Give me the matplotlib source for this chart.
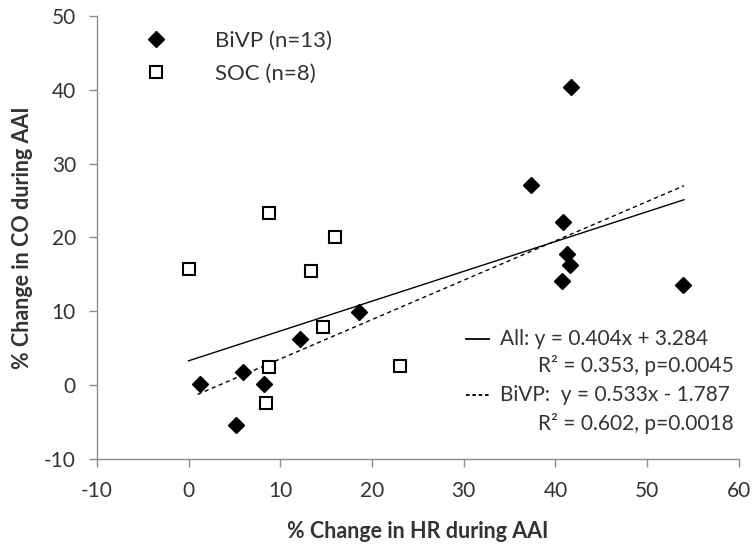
import numpy as np
import matplotlib.pyplot as plt

plt.rcParams['font.family'] = ['Lato', 'DejaVu Sans']
plt.rcParams['axes.unicode_minus'] = False

# BiVP patients
bivp_hr = [1.2, 5.2, 5.9, 8.2, 12.2, 18.6, 37.3, 40.8, 41.2, 41.6, 40.7, 41.7, 53.9]
bivp_co = [0.1, -5.4, 1.8, 0.1, 6.2, 9.85, 27.1, 22.1, 17.8, 16.2, 14.1, 40.4, 13.6]
# SOC patients
soc_hr = [0.0, 8.8, 16.0, 13.3, 14.7, 8.8, 8.5, 23.0]
soc_co = [15.7, 23.35, 20.1, 15.4, 7.9, 2.5, -2.4, 2.6]

# regression lines
all_slope, all_icpt = 0.404, 3.284
bivp_slope, bivp_icpt = 0.533, -1.787

gray = '#8c8c8c'
txtc = '#333333'

fig = plt.figure(figsize=(7.56, 5.47), dpi=100)
ax = fig.add_axes([0.128, 0.161, 0.8495, 0.81])

xa = np.array([0, 54])
ax.plot(xa, all_slope * xa + all_icpt, color='black', lw=1.0)
xb = np.array([1, 54])
ax.plot(xb, bivp_slope * xb + bivp_icpt, color='black', lw=1.0, ls=(0, (3, 2.5)))

ax.plot(bivp_hr, bivp_co, 'D', color='black', ms=8.3, ls='none', label='BiVP (n=13)')
ax.plot(soc_hr, soc_co, 's', mfc='white', mec='black', mew=1.5, ms=8,
        ls='none', label='SOC (n=8)')

ax.set_xlim(-10, 60)
ax.set_ylim(-10, 50)
ax.set_xticks(range(-10, 61, 10))
ax.set_yticks(range(-10, 51, 10))

for s in ['top', 'right']:
    ax.spines[s].set_visible(False)
for s in ['left', 'bottom']:
    ax.spines[s].set_color(gray)
    ax.spines[s].set_linewidth(1.0)
ax.tick_params(direction='out', length=6, width=1.0, color=gray,
               labelsize=15, labelcolor=txtc)
ax.tick_params(axis='x', pad=10)
ax.tick_params(axis='y', pad=9)

ax.set_xlabel('% Change in HR during AAI', fontsize=15.5, fontweight='bold',
              color=txtc, labelpad=14)
ax.set_ylabel('% Change in CO during AAI', fontsize=15.5, fontweight='bold',
              color=txtc, labelpad=8)

ax.legend(loc='upper left', bbox_to_anchor=(0.035, 1.012), frameon=False,
          fontsize=16, handletextpad=1.9, labelspacing=0.6, handlelength=1.5,
          labelcolor=txtc)

# regression annotation
tx = {'fontsize': 15, 'color': txtc}
ax.plot([30.2, 32.8], [6.2, 6.2], color='black', lw=1.3)
ax.text(34.0, 6.2, 'All: y = 0.404x + 3.284', va='center', **tx)
ax.text(59.4, 2.6, 'R² = 0.353, p=0.0045', va='center', ha='right', **tx)
ax.plot([30.2, 32.8], [-1.4, -1.4], color='black', lw=1.3, ls=(0, (2, 1.5)))
ax.text(34.0, -1.4, 'BiVP:  y = 0.533x - 1.787', va='center', **tx)
ax.text(59.4, -5.2, 'R² = 0.602, p=0.0018', va='center', ha='right', **tx)

fig.savefig('out.png', dpi=100)
